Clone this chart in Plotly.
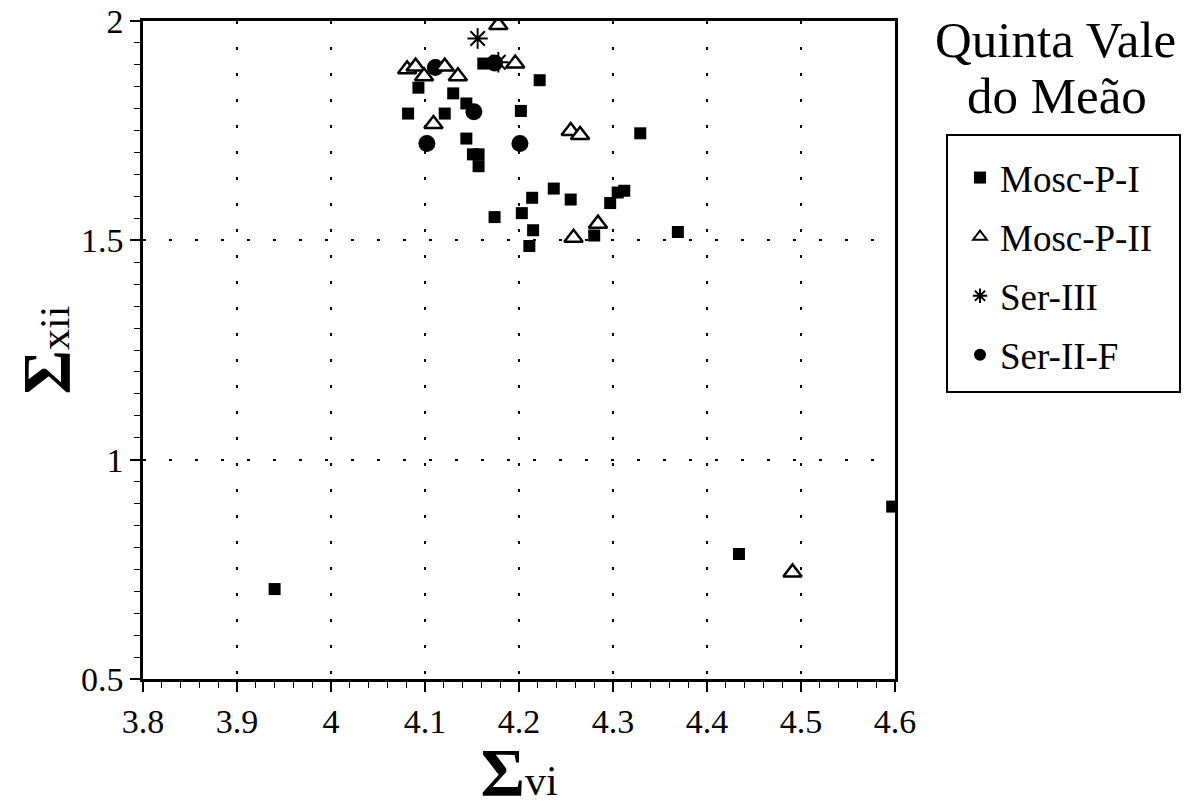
import plotly.graph_objects as go

# ---------------- data ----------------
mosc_p_i_x = [3.940, 4.434, 4.597, 4.162, 4.222, 4.093, 4.130, 4.144, 4.082, 4.121,
              4.202, 4.144, 4.151, 4.157, 4.157, 4.329, 4.214, 4.237, 4.255, 4.305,
              4.312, 4.297, 4.174, 4.203, 4.215, 4.211, 4.280, 4.369]
mosc_p_i_y = [0.705, 0.785, 0.893, 1.903, 1.865, 1.848, 1.835, 1.812, 1.789, 1.789,
              1.795, 1.732, 1.696, 1.696, 1.669, 1.744, 1.597, 1.618, 1.593, 1.609,
              1.613, 1.585, 1.553, 1.562, 1.523, 1.487, 1.511, 1.519]

mosc_p_ii_x = [4.178, 4.081, 4.090, 4.099, 4.121, 4.135, 4.196, 4.109, 4.255, 4.265,
               4.258, 4.284, 4.491]
mosc_p_ii_y = [1.991, 1.890, 1.896, 1.874, 1.896, 1.874, 1.903, 1.765, 1.749, 1.740,
               1.506, 1.538, 0.743]

ser_iii_x = [4.156, 4.178]
ser_iii_y = [1.960, 1.906]

ser_ii_f_x = [4.111, 4.174, 4.152, 4.102, 4.201]
ser_ii_f_y = [1.894, 1.904, 1.793, 1.721, 1.721]

x_ticks = [3.8, 3.9, 4.0, 4.1, 4.2, 4.3, 4.4, 4.5, 4.6]
x_tick_labels = ["3.8", "3.9", "4", "4.1", "4.2", "4.3", "4.4", "4.5", "4.6"]
y_ticks = [0.5, 1.0, 1.5, 2.0]
y_tick_labels = ["0.5", "1", "1.5", "2"]

title_lines = ["Quinta Vale", "do Meão"]

FONT = "Liberation Serif, Times New Roman, serif"

fig = go.Figure()

fig.add_trace(go.Scatter(
    x=mosc_p_i_x, y=mosc_p_i_y, mode="markers", name="Mosc-P-I",
    legendrank=1, legendgroup="a",
    marker=dict(symbol="square", size=12, color="black", line=dict(width=0))))
fig.add_trace(go.Scatter(
    x=ser_ii_f_x, y=ser_ii_f_y, mode="markers", name="Ser-II-F",
    legendrank=4, legendgroup="d",
    marker=dict(symbol="circle", size=17, color="black", line=dict(width=0))))
fig.add_trace(go.Scatter(
    x=mosc_p_ii_x, y=mosc_p_ii_y, mode="markers", name="Mosc-P-II",
    legendrank=2, legendgroup="b",
    marker=dict(symbol="triangle-up", size=16, color="white",
                line=dict(width=2.5, color="black"))))
fig.add_trace(go.Scatter(
    x=ser_iii_x, y=ser_iii_y, mode="markers", name="Ser-III",
    legendrank=3, legendgroup="c",
    marker=dict(symbol="asterisk-open", size=17, color="black",
                line=dict(width=2, color="black"))))

L, R, T, B = 143, 302, 21, 131
W, H = 1197, 810
pw, ph = W - L - R, H - T - B


def px2paper_x(px):
    return (px - L) / pw


def px2paper_y(py):
    return (H - B - py) / ph


axis_common = dict(
    showline=True, linecolor="black", linewidth=2.5, mirror=True,
    ticks="outside", ticklen=10, tickwidth=1.5, tickcolor="black",
    showgrid=True, gridcolor="black", gridwidth=1.5, griddash="3px,23px",
    zeroline=False, automargin=False,
    tickfont=dict(family=FONT, size=34, color="black"),
)

fig.update_layout(
    width=W, height=H,
    margin=dict(l=L, r=R, t=T, b=B, autoexpand=False),
    paper_bgcolor="white", plot_bgcolor="white",
    font=dict(family=FONT, color="black"),
    xaxis=dict(
        range=[3.8, 4.6], tickmode="array", tickvals=x_ticks, ticktext=x_tick_labels,
        minor=dict(dtick=0.02, ticks="outside", ticklen=6, tickwidth=1.2,
                   tickcolor="black", showgrid=False),
        title=dict(text='<b><span style="font-size:68px">Σ</span></b>'
                        '<span style="font-size:42px">vi</span>',
                   standoff=19),
        **axis_common),
    yaxis=dict(
        range=[0.5, 2.0], tickmode="array", tickvals=y_ticks, ticktext=y_tick_labels,
        minor=dict(dtick=0.05, ticks="outside", ticklen=6, tickwidth=1.2,
                   tickcolor="black", showgrid=False),
        title=dict(text='<b><span style="font-size:68px">Σ</span></b>'
                        '<span style="font-size:42px">xii</span>',
                   standoff=9),
        **axis_common),
    showlegend=True,
    legend=dict(
        x=px2paper_x(960), y=px2paper_y(147), xanchor="left", yanchor="top",
        bgcolor="rgba(0,0,0,0)", borderwidth=0,
        font=dict(family=FONT, size=37, color="black"),
        tracegroupgap=8, itemsizing="constant",
    ),
    annotations=[
        dict(x=px2paper_x(1055), y=px2paper_y(40), xref="paper", yref="paper",
             text=title_lines[0], showarrow=False, xanchor="center", yanchor="middle",
             font=dict(family=FONT, size=51, color="black")),
        dict(x=px2paper_x(1057), y=px2paper_y(96), xref="paper", yref="paper",
             text=title_lines[1], showarrow=False, xanchor="center", yanchor="middle",
             font=dict(family=FONT, size=51, color="black")),
    ],
    shapes=[dict(
        type="rect", xref="paper", yref="paper",
        x0=px2paper_x(947), x1=px2paper_x(1180),
        y0=px2paper_y(392), y1=px2paper_y(135),
        line=dict(color="black", width=2), fillcolor="rgba(0,0,0,0)")],
)

fig.write_html("out.html")
